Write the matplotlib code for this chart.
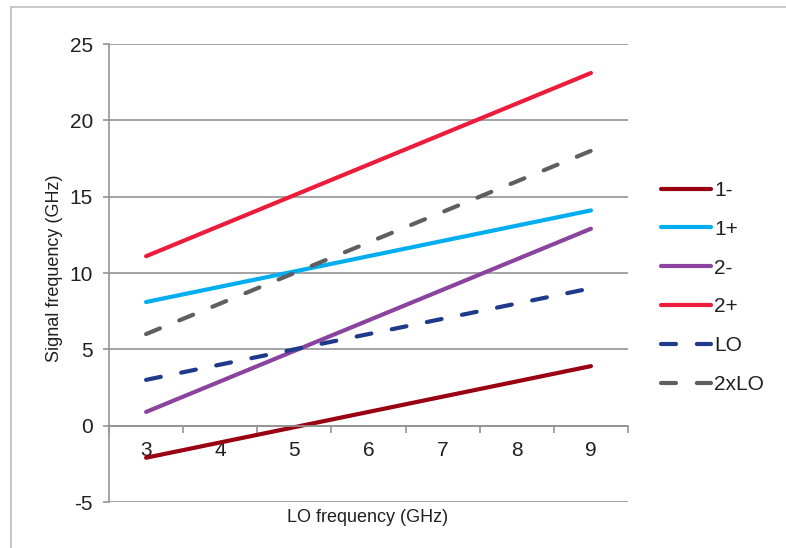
import matplotlib.pyplot as plt
from matplotlib.patches import Rectangle

plt.rcParams['font.family'] = ['Liberation Sans', 'DejaVu Sans']
plt.rcParams['axes.unicode_minus'] = False

# data
lo_ghz = [3, 4, 5, 6, 7, 8, 9]
one_minus = [-2.1, -1.1, -0.1, 0.9, 1.9, 2.9, 3.9]
one_plus = [8.1, 9.1, 10.1, 11.1, 12.1, 13.1, 14.1]
two_minus = [0.9, 2.9, 4.9, 6.9, 8.9, 10.9, 12.9]
two_plus = [11.1, 13.1, 15.1, 17.1, 19.1, 21.1, 23.1]
lo_line = [3, 4, 5, 6, 7, 8, 9]
two_lo = [6, 8, 10, 12, 14, 16, 18]

series = [
    ("1-", one_minus, "#990012", "-"),
    ("1+", one_plus, "#00AEEF", "-"),
    ("2-", two_minus, "#8B449E", "-"),
    ("2+", two_plus, "#ED1C3C", "-"),
    ("LO", lo_line, "#1F3A8A", "--"),
    ("2xLO", two_lo, "#5F5F5F", "--"),
]

txt = "#231F20"
grid_c = "#939393"

fig = plt.figure(figsize=(7.86, 5.48), dpi=100)
ax = fig.add_axes([109 / 786, 1 - 502 / 548, (628 - 109) / 786, (502 - 44) / 548])

# outer frame of the figure (cut off on the right and bottom)
fig.patches.append(Rectangle((11 / 786, -0.1), 1.2, 1 - 7 / 548 + 0.1,
                             transform=fig.transFigure, fill=False,
                             edgecolor="#BDBDBD", linewidth=1.2))

for name, vals, col, ls in series:
    line, = ax.plot(lo_ghz, vals, color=col, lw=3.0, ls=ls, label=name,
                    solid_capstyle='round', dash_capstyle='round')
    if ls == "--":
        line.set_dashes((3.6, 5.0))

ax.set_xlim(2.5, 9.5)
ax.set_ylim(-5, 25)
ax.set_yticks(range(-5, 26, 5))
ax.yaxis.grid(True, color=grid_c, lw=1.2)
ax.set_axisbelow(True)

ax.spines['top'].set_visible(False)
ax.spines['right'].set_visible(False)
ax.spines['left'].set_color(grid_c)
ax.spines['left'].set_linewidth(1.2)
ax.spines['bottom'].set_position(('data', 0))
ax.spines['bottom'].set_color(grid_c)
ax.spines['bottom'].set_linewidth(1.2)

# category axis: ticks between categories, labels at centres
ax.set_xticks([x - 0.5 for x in lo_ghz] + [lo_ghz[-1] + 0.5])
ax.set_xticklabels([])
ax.set_xticks(lo_ghz, minor=True)
ax.set_xticklabels([str(v) for v in lo_ghz], minor=True)
ax.tick_params(axis='x', which='major', length=5, width=1.2, color=grid_c, direction='out')
ax.tick_params(axis='x', which='minor', length=0, pad=11, labelsize=15, labelcolor=txt)
ax.tick_params(axis='y', length=4.5, width=1.2, color=grid_c, pad=7, labelsize=15, labelcolor=txt)

fig.text(368 / 786, 1 - 518 / 548, "LO frequency (GHz)", ha='center', va='center',
         fontsize=13, color=txt)
fig.text(55 / 786, 1 - 268 / 548, "Signal frequency (GHz)", ha='center', va='center',
         rotation=90, fontsize=13, color=txt)

fig.legend(loc='upper left', bbox_to_anchor=(661 / 786, 1 - 181 / 548), frameon=False,
           fontsize=15, labelcolor=txt, handlelength=2.4, handletextpad=0.15,
           labelspacing=0.95, borderpad=0, borderaxespad=0)

fig.savefig("out.png", dpi=100)
